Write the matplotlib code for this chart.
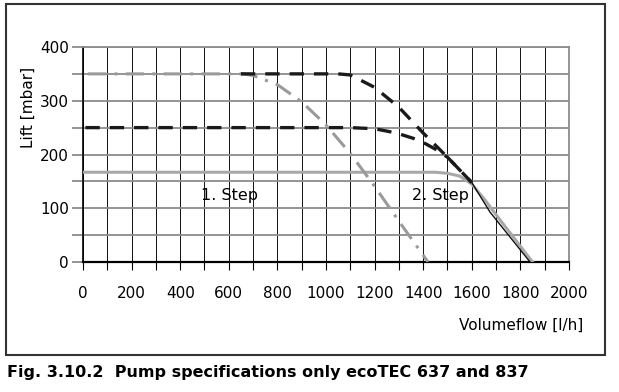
import numpy as np
import matplotlib.pyplot as plt
from matplotlib.patches import Rectangle

# pump curves (flow l/h, lift mbar)
flow_dashdot = [20, 660, 700, 800, 900, 1000, 1100, 1200, 1300, 1420]
lift_dashdot = [350, 350, 347, 330, 298, 255, 202, 141, 76, 0]

flow_upper = [650, 1050, 1100, 1200, 1300, 1400, 1500, 1600]
lift_upper = [350, 350, 348, 325, 288, 240, 195, 148]

flow_lower = [10, 1100, 1200, 1290, 1360, 1410, 1450, 1500, 1600]
lift_lower = [250, 250, 248, 240, 230, 220, 210, 195, 148]

flow_tail = [1600, 1675, 1840]
lift_tail = [148, 93, 0]

flow_step1 = [0, 1450, 1500, 1550, 1600, 1650, 1700, 1770, 1850]
lift_step1 = [167, 167, 165, 160, 145, 118, 88, 47, 0]

xticks = np.arange(0, 2001, 200)
yticks = np.arange(0, 401, 100)

fig = plt.figure(figsize=(6.19, 3.92), dpi=100)
ax = fig.add_axes([0.1341, 0.3316, 0.785, 0.5485])

ax.plot(flow_step1, lift_step1, color='#a8a8a8', lw=2.2, zorder=3)
ax.plot(flow_tail, lift_tail, color='#111111', lw=1.0, zorder=4)
ax.plot(flow_dashdot, lift_dashdot, color='#9a9a9a', lw=2.2,
        dashes=(6, 2.7, 1, 2.7), zorder=3)
ax.plot(flow_upper, lift_upper, color='#1a1a1a', lw=2.4, dashes=(4.3, 3), zorder=4)
ax.plot(flow_lower, lift_lower, color='#1a1a1a', lw=2.4, dashes=(4.3, 3), zorder=4)

ax.text(605, 123, '1. Step', fontsize=11.5, ha='center', va='center', zorder=5)
ax.text(1473, 123, '2. Step', fontsize=11.5, ha='center', va='center', zorder=5)

ax.set_xlim(0, 2000)
ax.set_ylim(0, 400)
ax.set_xticks(xticks)
ax.set_xticks(np.arange(0, 2001, 100), minor=True)
ax.set_yticks(yticks)
ax.set_yticks(np.arange(0, 401, 50), minor=True)
ax.tick_params(axis='x', which='both', length=6, width=0.8, color='k',
               labelsize=11, pad=11)
ax.tick_params(axis='y', which='both', length=8, width=1.3, color='#8c8c8c',
               labelsize=11, pad=2)

ax.grid(which='both', axis='x', color='#111111', lw=0.7)
ax.grid(which='both', axis='y', color='#8c8c8c', lw=1.3)
ax.set_axisbelow(True)

ax.spines['left'].set_color('k')
ax.spines['left'].set_linewidth(1.2)
ax.spines['bottom'].set_color('k')
ax.spines['bottom'].set_linewidth(1.6)
ax.spines['top'].set_color('#8c8c8c')
ax.spines['top'].set_linewidth(1.3)
ax.spines['right'].set_color('#8c8c8c')
ax.spines['right'].set_linewidth(1.3)

fig.text(28 / 619, 1 - 107 / 392, 'Lift [mbar]', rotation=90, fontsize=11,
         ha='center', va='center')
fig.text(583 / 619, 1 - 325 / 392, 'Volumeflow [l/h]', fontsize=11,
         ha='right', va='center')

fig.patches.append(Rectangle((6 / 619, 1 - 355 / 392), 599 / 619, 351 / 392,
                             transform=fig.transFigure, fill=False,
                             edgecolor='#333333', lw=1.5))

fig.text(7 / 619, 1 - 373 / 392,
         'Fig. 3.10.2  Pump specifications only ecoTEC 637 and 837',
         fontsize=11.5, fontweight='bold', ha='left', va='center')

fig.savefig('out.png', dpi=100)
